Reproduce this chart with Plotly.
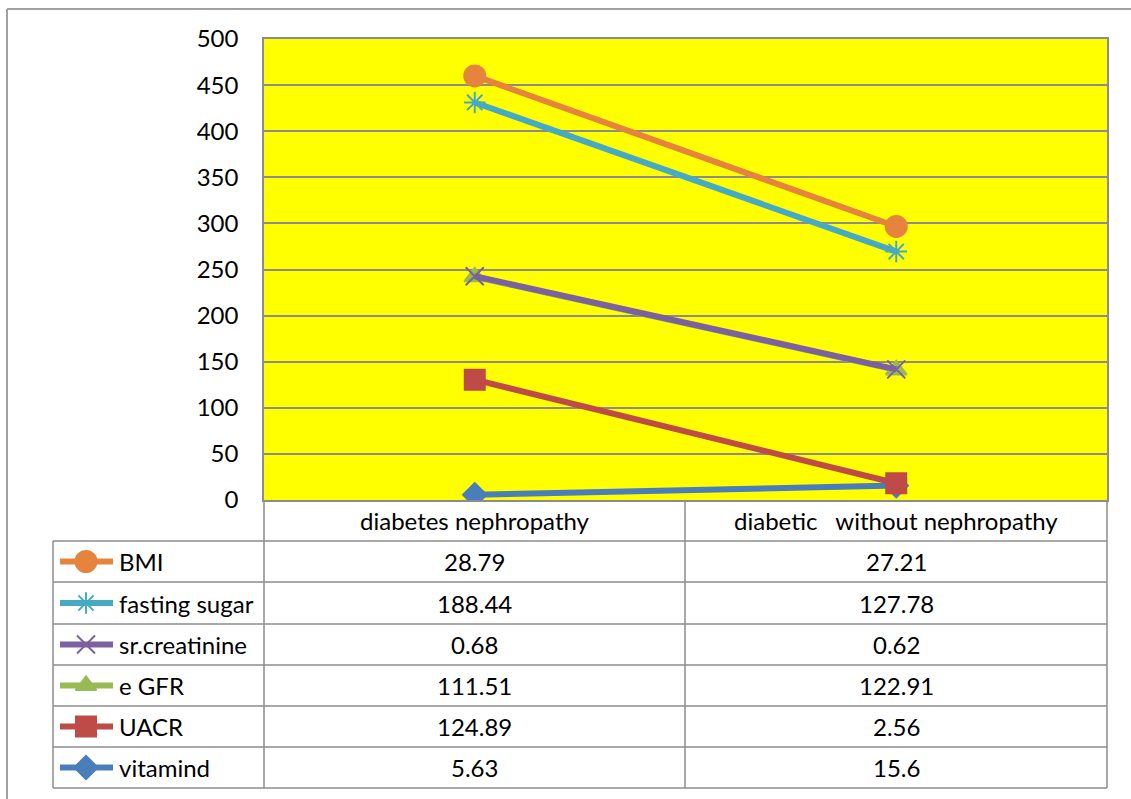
import plotly.graph_objects as go

# ---- data ----
categories = ["diabetes nephropathy", "diabetic   without nephropathy"]
series_names = ["vitamind", "UACR", "e GFR", "sr.creatinine", "fasting sugar", "BMI"]
vitamind = [5.63, 15.6]
uacr = [124.89, 2.56]
egfr = [111.51, 122.91]
creatinine = [0.68, 0.62]
fasting_sugar = [188.44, 127.78]
bmi = [28.79, 27.21]
y_ticks = [0, 50, 100, 150, 200, 250, 300, 350, 400, 450, 500]

series_values = [vitamind, uacr, egfr, creatinine, fasting_sugar, bmi]
line_colors = ["#4A7EBB", "#BE4B48", "#98B954", "#7D60A0", "#46AAC5", "#E6843E"]
marker_colors = ["#4A7EBB", "#BE4B48", "#98B954", "#7D60A0", "#46AAC5", "#E6843E"]
symbols = ["diamond", "square", "triangle-up", "x-thin-open", "asterisk-open", "circle"]
marker_sizes = [18, 20, 18, 18, 18, 21]

W, H = 1131, 799
FONT = "Lato"
FS = 24


def px(x):
    return x / W


def py(y):
    return 1 - y / H


# plot area (pixels)
PL, PR, PT, PB = 264, 1107, 39, 500
COL_MID = 685
TABLE_LEFT = 53
row_edges = [541, 582, 624, 665, 706, 747, 788]

fig = go.Figure()

for i, name in enumerate(series_names):
    fig.add_trace(go.Scatter(
        x=categories, y=series_values[i], name=name,
        stackgroup="one", fill="none", mode="lines+markers",
        line=dict(color=line_colors[i], width=6),
        marker=dict(symbol=symbols[i], size=marker_sizes[i], color=marker_colors[i], opacity=1,
                    line=dict(color=marker_colors[i], width=2)),
        showlegend=False, hoverinfo="x+y+name",
    ))

shapes = []
annotations = []
gray = "#8C8C8C"

# yellow plot background (below gridlines)
shapes.append(dict(type="rect", xref="x domain", yref="y domain", x0=0, x1=1, y0=0, y1=1,
                   fillcolor="#FFFF00", line=dict(width=0), layer="below"))

# outer chart frame
shapes.append(dict(type="line", xref="paper", yref="paper", x0=px(7), x1=px(W), y0=py(9), y1=py(9),
                   line=dict(color="#A0A0A0", width=2)))
shapes.append(dict(type="line", xref="paper", yref="paper", x0=px(7), x1=px(7), y0=py(9), y1=py(H),
                   line=dict(color="#A0A0A0", width=2)))

# data table grid
for x in [PL, COL_MID, PR]:
    shapes.append(dict(type="line", xref="paper", yref="paper", x0=px(x), x1=px(x), y0=py(PB), y1=py(row_edges[-1]),
                       line=dict(color=gray, width=1.5)))
shapes.append(dict(type="line", xref="paper", yref="paper", x0=px(TABLE_LEFT), x1=px(TABLE_LEFT),
                   y0=py(row_edges[0]), y1=py(row_edges[-1]), line=dict(color=gray, width=1.5)))
for y in row_edges:
    shapes.append(dict(type="line", xref="paper", yref="paper", x0=px(TABLE_LEFT), x1=px(PR), y0=py(y), y1=py(y),
                       line=dict(color=gray, width=1.5)))

# header row
col_centers = [(PL + COL_MID) / 2, (COL_MID + PR) / 2]
for j, cat in enumerate(categories):
    annotations.append(dict(xref="paper", yref="paper", x=px(col_centers[j]), y=py((PB + row_edges[0]) / 2),
                            text=cat.replace("   ", "&nbsp;&nbsp;&nbsp;"), showarrow=False,
                            font=dict(family=FONT, size=FS, color="#000"), xanchor="center", yanchor="middle"))

# table rows, top row is the last stacked series
table_order = list(range(len(series_names)))[::-1]
for r, i in enumerate(table_order):
    yc = (row_edges[r] + row_edges[r + 1]) / 2
    annotations.append(dict(xref="paper", yref="paper", x=px(117), y=py(yc), text=series_names[i],
                            showarrow=False, font=dict(family=FONT, size=FS, color="#000"),
                            xanchor="left", yanchor="middle"))
    for j in range(2):
        annotations.append(dict(xref="paper", yref="paper", x=px(col_centers[j]), y=py(yc),
                                text=f"{series_values[i][j]:g}", showarrow=False,
                                font=dict(family=FONT, size=FS, color="#000"),
                                xanchor="center", yanchor="middle"))
    # legend key line + marker
    fig.add_trace(go.Scatter(
        x=[60, 86, 113], y=[yc, yc, yc], xaxis="x2", yaxis="y2", mode="lines+markers",
        line=dict(color=line_colors[i], width=6),
        marker=dict(symbol=symbols[i], size=[0, marker_sizes[i], 0], color=marker_colors[i], opacity=1,
                    line=dict(color=marker_colors[i], width=2)),
        showlegend=False, hoverinfo="skip",
    ))

fig.update_layout(
    width=W, height=H,
    margin=dict(l=0, r=0, t=0, b=0, autoexpand=False),
    paper_bgcolor="white",
    plot_bgcolor="rgba(0,0,0,0)",
    font=dict(family=FONT, size=FS, color="#000"),
    xaxis=dict(domain=[px(PL), px(PR)], range=[-0.5, 1.5], showticklabels=False, showgrid=False,
               zeroline=False, showline=True, linecolor=gray, linewidth=1.5, mirror=True, fixedrange=True,
               automargin=False),
    yaxis=dict(domain=[py(PB), py(PT)], range=[0, 500], tickvals=y_ticks, showgrid=True, gridcolor=gray,
               gridwidth=1.5, zeroline=False, showline=True, linecolor=gray, linewidth=1.5, mirror=True,
               ticks="", ticklabelstandoff=19, tickfont=dict(family=FONT, size=FS, color="#000"),
               fixedrange=True, automargin=False),
    xaxis2=dict(domain=[0, 1], range=[0, W], visible=False, fixedrange=True, automargin=False),
    yaxis2=dict(domain=[0, 1], range=[H, 0], visible=False, fixedrange=True, anchor="x2", automargin=False),
    shapes=shapes,
    annotations=annotations,
)

fig.write_html("out.html")
